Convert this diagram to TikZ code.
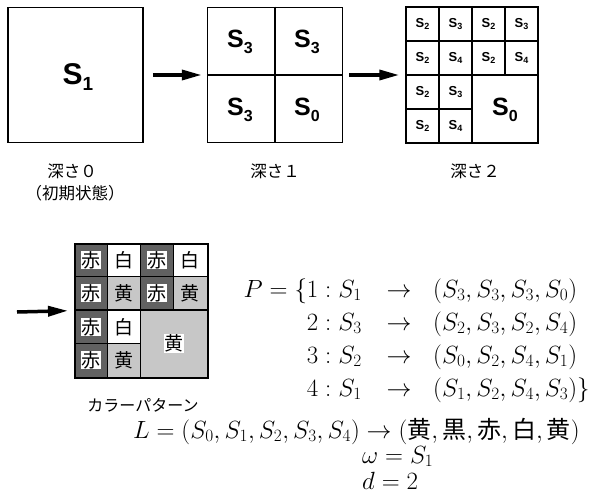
\documentclass[tikz,border=0pt]{standalone}
\usepackage{fontspec}
\newfontfamily\cjk{Noto Sans CJK JP}
\newfontfamily\hv{Liberation Sans}
\usetikzlibrary{arrows.meta,patterns}
\newcommand{\mySlab}[3]{{\hv\bfseries\fontsize{#1}{#1}\selectfont S\raisebox{-0.22em}{\fontsize{#2}{#2}\selectfont #3}}}
\tikzset{
  frame/.style={draw=black,line width=1.5pt},
  grid/.style={draw=black,line width=1.2pt},
  bigarrow/.style={line width=3.5pt,-{Triangle[length=20pt,width=10pt]}},
  lab/.style={font=\cjk\fontsize{16.5}{18}\selectfont,inner sep=0pt},
  red/.style={fill=black!62},
  yel/.style={fill=black!22},
  wht/.style={fill=white},
  ctext/.style={font=\cjk\fontsize{19}{19}\selectfont,inner sep=0.5pt},
  eq/.style={font=\fontsize{24}{28}\selectfont,inner sep=0pt}
}
\begin{document}
\begin{tikzpicture}[x=1pt,y=-1pt]
\useasboundingbox (0,0) rectangle (607,495);
% depth 0
\node[frame,minimum size=135pt,inner sep=0pt] (b0) at (75.5,75) {};
\node (s1) at (78,77) {\mySlab{30}{19}{1}};
\node[lab] (l0) at (72,171) {深さ０};
\node[lab] (l0b) at (75,193) {（初期状態）};
% depth 1
\node[frame,minimum size=135pt,inner sep=0pt] (b1) at (275,75) {};
\draw[grid] (b1.north) -- (b1.south);
\draw[grid] (b1.west) -- (b1.east);
\node (c11) at (240,42) {\mySlab{25}{16}{3}};
\node (c12) at (307,42) {\mySlab{25}{16}{3}};
\node (c13) at (240,110) {\mySlab{25}{16}{3}};
\node (c14) at (307,110) {\mySlab{25}{16}{0}};
\node[lab] (l1) at (275,171) {深さ１};
% depth 2
\node[frame,minimum width=132pt,minimum height=136pt,inner sep=0pt] (b2) at (472,75) {};
\draw[grid] (b2.north) -- (b2.south);
\draw[grid] (b2.west) -- (b2.east);
\draw[grid] (439,7) -- (439,143);
\draw[grid] (505,7) -- (505,75);
\draw[grid] (406,41) -- (538,41);
\draw[grid] (406,109) -- (472,109);
\foreach \x/\y/\d [count=\i] in {422.5/24/2,455.5/24/3,488.5/24/2,521.5/24/3,
  422.5/58/2,455.5/58/4,488.5/58/2,521.5/58/4,
  422.5/92/2,455.5/92/3,422.5/126/2,455.5/126/4}
  \node (d\i) at (\x,\y) {\mySlab{13}{9}{\d}};
\node (d0) at (505,110) {\mySlab{25}{16}{0}};
\node[lab] (l2) at (475,171) {深さ２};
% arrows
\draw[bigarrow] (b0.east) ++(9,0) coordinate (a1s) -- ([xshift=-5pt]b1.west);
\draw[bigarrow] (b1.east) ++(6,0) coordinate (a2s) -- ([xshift=-6pt]b2.west);
% colour pattern
\coordinate (cp) at (74,243);
\fill[red] (74,243) rectangle (107.25,377);
\fill[red] (140.5,243) rectangle (173.75,310);
\fill[wht] (107.25,243) rectangle (140.5,276.5);
\fill[wht] (173.75,243) rectangle (207,276.5);
\fill[yel] (107.25,276.5) rectangle (140.5,310);
\fill[yel] (173.75,276.5) rectangle (207,310);
\fill[wht] (107.25,310) rectangle (140.5,343.5);
\fill[yel] (107.25,343.5) rectangle (140.5,377);
\fill[yel] (140.5,310) rectangle (207,377);
\node[frame,minimum width=133pt,minimum height=134pt,inner sep=0pt,anchor=north west] (cb) at (cp) {};
\draw[grid] (107.25,243) -- (107.25,377);
\draw[grid] (140.5,243) -- (140.5,377);
\draw[grid] (173.75,243) -- (173.75,310);
\draw[grid] (74,276.5) -- (207,276.5);
\draw[grid] (74,310) -- (207,310);
\draw[grid] (74,343.5) -- (140.5,343.5);
\foreach \x/\y/\t/\f [count=\i] in {90.6/260/赤/white,123.9/260/白/white,157.1/260/赤/white,190.4/260/白/white,
  90.6/293/赤/white,123.9/293/黄/black!22,157.1/293/赤/white,190.4/293/黄/black!22,
  90.6/327/赤/white,123.9/327/白/white,90.6/360/赤/white,123.9/360/黄/black!22}
  \node[ctext,fill=\f] (t\i) at (\x,\y) {\t};
\node[ctext,fill=white] (t0) at (173.75,343.5) {黄};
\node[lab,font=\cjk\fontsize{16}{18}\selectfont] (lcp) at (143,405) {カラーパターン};
\coordinate (a3s) at (17,312);
\draw[bigarrow] (a3s) -- ([xshift=-6pt]cb.west);
% equations
\node[eq,anchor=base east] (p1) at (362,297) {$P=\{1:S_1$};
\node[eq,anchor=base east] (p2) at (362,330) {$2:S_3$};
\node[eq,anchor=base east] (p3) at (362,363) {$3:S_2$};
\node[eq,anchor=base east] (p4) at (362,396) {$4:S_1$};
\foreach \y [count=\i] in {297,330,363,396}
  \node[eq,anchor=base] (ar\i) at (399,\y) {$\rightarrow$};
\node[eq,anchor=base west] (q1) at (433,297) {$(S_3,S_3,S_3,S_0)$};
\node[eq,anchor=base west] (q2) at (433,330) {$(S_2,S_3,S_2,S_4)$};
\node[eq,anchor=base west] (q3) at (433,363) {$(S_0,S_2,S_4,S_1)$};
\node[eq,anchor=base west] (q4) at (433,396) {$(S_1,S_2,S_4,S_3)\}$};
\node[eq,anchor=base east] (lrow) at (580,438) {$L=(S_0,S_1,S_2,S_3,S_4)\rightarrow(\mbox{\cjk 黄},\mbox{\cjk 黒},\mbox{\cjk 赤},\mbox{\cjk 白},\mbox{\cjk 黄})$};
\node[eq,anchor=base west] (om) at (362,463) {$\omega=S_1$};
\node[eq,anchor=base west] (dd) at (362,489) {$d=2$};
\end{tikzpicture}
\end{document}
